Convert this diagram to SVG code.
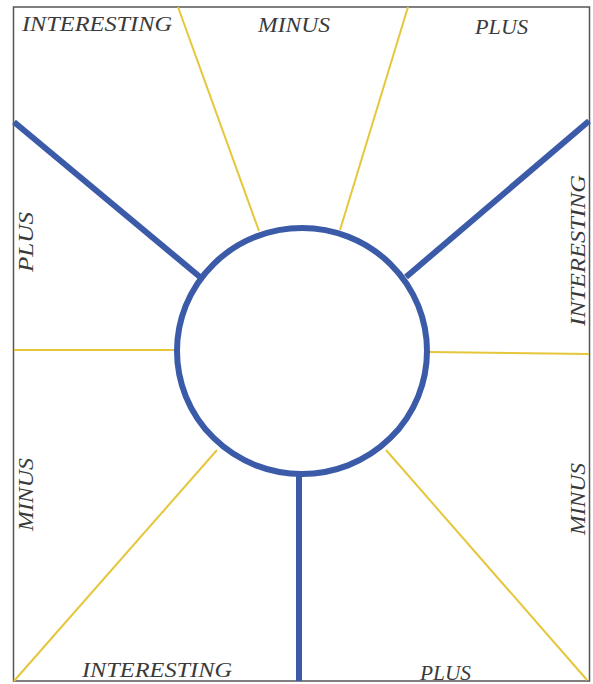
<svg xmlns="http://www.w3.org/2000/svg" width="593" height="684" viewBox="0 0 593 684">
<style>
.frame{fill:#fff;stroke:#555;stroke-width:1.5}
.blue{stroke:#3b5ba8;stroke-width:6;fill:none;stroke-linecap:butt}
.yel{stroke:#e6c63a;stroke-width:2;fill:none}
.lbl{font-family:"Liberation Serif",serif;font-style:italic;font-size:20px;fill:#3a3a3a}
</style>
<rect width="593" height="684" fill="#fff"/>
<rect class="frame" x="13.5" y="7" width="576" height="674"/>
<g id="connectors">
<line class="yel" x1="178" y1="7" x2="259" y2="231"/>
<line class="yel" x1="408" y1="7" x2="340" y2="230"/>
<line class="yel" x1="14" y1="350" x2="175" y2="350"/>
<line class="yel" x1="429" y1="352" x2="589" y2="354"/>
<line class="yel" x1="14" y1="681" x2="217" y2="450"/>
<line class="yel" x1="386" y1="450" x2="587" y2="680"/>
<line class="blue" x1="14" y1="122" x2="200" y2="277"/>
<line class="blue" x1="589" y1="121" x2="406" y2="277"/>
<line class="blue" x1="299" y1="475" x2="299" y2="681"/>
</g>
<g id="center">
<ellipse cx="302" cy="351" rx="125" ry="123" fill="#fff" stroke="#3b5ba8" stroke-width="6"/>
</g>
<g id="labels">
<text class="lbl" x="22" y="31" textLength="150" lengthAdjust="spacingAndGlyphs">INTERESTING</text>
<text class="lbl" x="258" y="32" textLength="72" lengthAdjust="spacingAndGlyphs">MINUS</text>
<text class="lbl" x="475" y="34" textLength="53" lengthAdjust="spacingAndGlyphs">PLUS</text>
<text class="lbl" x="82" y="677" textLength="150" lengthAdjust="spacingAndGlyphs">INTERESTING</text>
<text class="lbl" x="420" y="680" textLength="51" lengthAdjust="spacingAndGlyphs">PLUS</text>
<text class="lbl" transform="translate(33,272) rotate(-90)" textLength="60" lengthAdjust="spacingAndGlyphs">PLUS</text>
<text class="lbl" transform="translate(33,531) rotate(-90)" textLength="73" lengthAdjust="spacingAndGlyphs">MINUS</text>
<text class="lbl" transform="translate(585,326) rotate(-90)" textLength="151" lengthAdjust="spacingAndGlyphs">INTERESTING</text>
<text class="lbl" transform="translate(585,535) rotate(-90)" textLength="72" lengthAdjust="spacingAndGlyphs">MINUS</text>
</g>
</svg>
